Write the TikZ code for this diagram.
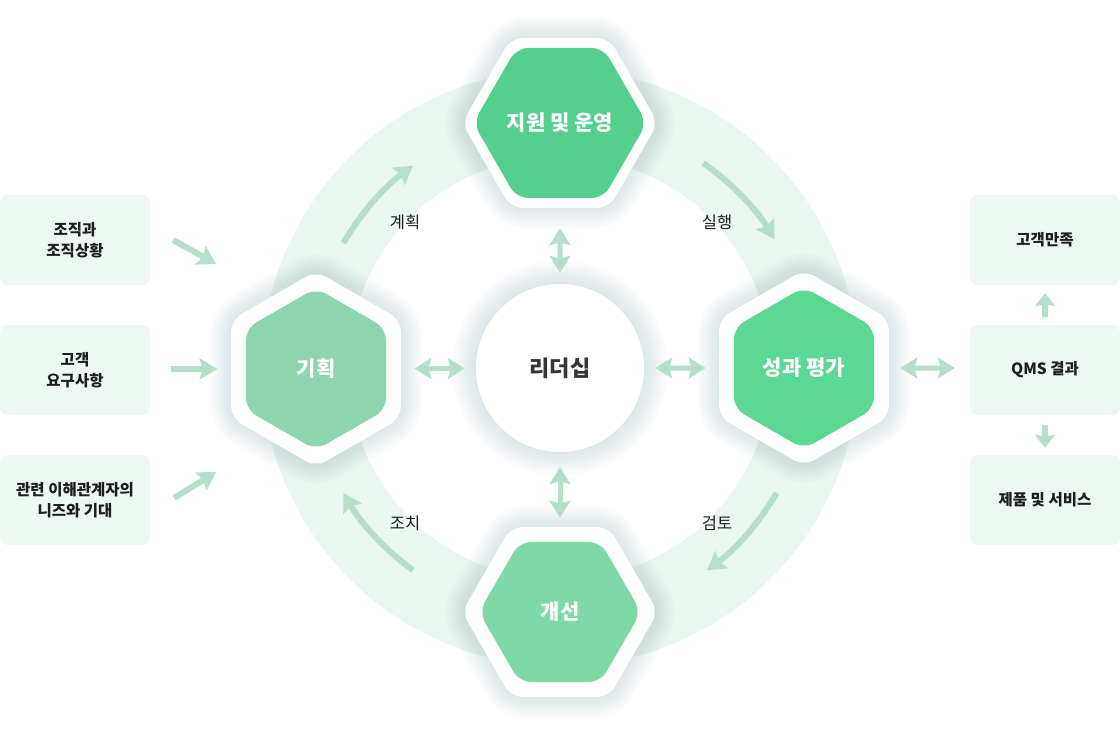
\documentclass[tikz,border=0pt]{standalone}
\usepackage{fontspec}
\setmainfont{Noto Sans CJK KR}
\usetikzlibrary{shapes.geometric,arrows.meta}
\definecolor{ringc}{HTML}{EAF7F0}
\definecolor{arr}{HTML}{B6DFC9}
\definecolor{boxc}{HTML}{ECF8F1}
\definecolor{glowc}{HTML}{A9C2C9}
\definecolor{gTop}{HTML}{55CF8D}
\definecolor{gRight}{HTML}{5BD893}
\definecolor{gLeft}{HTML}{8ED4AE}
\definecolor{gBot}{HTML}{7ED9A7}
\definecolor{ink}{HTML}{1E1E1E}
\tikzset{
  hexbase/.style={regular polygon, regular polygon sides=6, inner sep=0pt, draw=none},
  hexw/.style={hexbase, minimum size=196pt, fill=white, rounded corners=12pt},
  hexg/.style={hexbase, minimum size=162pt, rounded corners=12pt, text=white,
     font=\bfseries\fontsize{21}{25}\selectfont},
  glowlayer/.style={fill=glowc, fill opacity=0.038, draw=none},
  infobox/.style={rectangle, rounded corners=8pt, fill=boxc, minimum width=150pt,
     minimum height=90pt, inner sep=0pt, align=center, text=ink,
     font=\bfseries\fontsize{15.5}{21}\selectfont},
  lbl/.style={text=ink, font=\fontsize{16.5}{20}\selectfont, inner sep=0pt},
  flow/.style={draw=arr, line width=6pt, -{Stealth[length=18pt,width=21pt,inset=3pt]}},
  dbl/.style={draw=arr, line width=5pt,
     {Stealth[length=17pt,width=21pt,inset=3pt]}-{Stealth[length=17pt,width=21pt,inset=3pt]}},
  small/.style={draw=arr, line width=6pt, -{Stealth[length=13pt,width=20pt,inset=2pt]}},
}
\begin{document}
\begin{tikzpicture}[x=1pt,y=-1pt]
\useasboundingbox (0,0) rectangle (1120,739);
\coordinate (C) at (560,368);
% ring
\fill[ringc, even odd rule] (C) circle[radius=298] (C) circle[radius=212];
% glows
\foreach \k in {1,...,12}{
  \node[hexbase, glowlayer, minimum size={196pt+4pt*\k}, rounded corners={12pt+\k pt}] (gt\k) at (560,123) {};
  \node[hexbase, glowlayer, minimum size={196pt+4pt*\k}, rounded corners={12pt+\k pt}] (gb\k) at (560,612) {};
  \node[hexbase, glowlayer, shape border rotate=30, minimum size={196pt+4pt*\k}, rounded corners={12pt+\k pt}] (gl\k) at (316,369) {};
  \node[hexbase, glowlayer, shape border rotate=30, minimum size={196pt+4pt*\k}, rounded corners={12pt+\k pt}] (gr\k) at (804,368) {};
  \node[circle, glowlayer, inner sep=0pt, minimum size={168pt+4pt*\k}] (gc\k) at (C) {};
}
% white frames
\node[hexw] (supp-w) at (560,123) {};
\node[hexw] (impr-w) at (560,612) {};
\node[hexw, shape border rotate=30] (plan-w) at (316,369) {};
\node[hexw, shape border rotate=30] (eval-w) at (804,368) {};
% center
\node[circle, fill=white, minimum size=168pt, inner sep=0pt, text=ink!90!white,
  font=\bfseries\fontsize{22}{26}\selectfont] (lead) at (C) {리더십};
% green hexes
\node[hexg, fill=gTop] (supp) at (560,123) {지원 및 운영};
\node[hexg, fill=gBot] (impr) at (560,612) {개선};
\node[hexg, fill=gLeft, shape border rotate=30] (plan) at (316,369) {기획};
\node[hexg, fill=gRight, shape border rotate=30] (eval) at (804,368) {성과 평가};
% boxes left
\node[infobox] (b1) at (75,240) {조직과\\조직상황};
\node[infobox] (b2) at (75,370) {고객\\요구사항};
\node[infobox] (b3) at (75,500) {관련 이해관계자의\\니즈와 기대};
% boxes right
\node[infobox] (r1) at (1045,240) {고객만족};
\node[infobox] (r2) at (1045,370) {QMS 결과};
\node[infobox] (r3) at (1045,500) {제품 및 서비스};
% left arrows
\draw[flow] ([xshift=23pt]b1.east) -- ++(43,24);
\draw[flow, shorten <=21pt, shorten >=28pt] (b2.east |- plan) -- (plan);
\draw[flow] ([xshift=24pt,yshift=2pt]b3.east) -- ++(42,-26);
% double arrows
\draw[dbl, shorten <=28pt, shorten >=11pt] (plan) -- (lead);
\draw[dbl, shorten <=11pt, shorten >=28pt] (lead) -- (eval);
\draw[dbl, shorten <=30pt, shorten >=11pt] (supp) -- (lead);
\draw[dbl, shorten <=15pt, shorten >=24pt] (lead) -- (impr);
\draw[dbl, shorten <=26pt, shorten >=15pt] (eval) -- (r2.west |- eval);
% right small arrows
\draw[small, shorten <=8pt, shorten >=8pt] (r2) -- (r1);
\draw[small, shorten <=10pt, shorten >=7pt] (r2) -- (r3);
% cycle arrows
\draw[flow] ([shift={(C)}]-150:250) arc[start angle=-150, end angle=-126, radius=250];
\draw[flow] ([shift={(C)}]-55:250) arc[start angle=-55, end angle=-31, radius=250];
\draw[flow] ([shift={(C)}]30:250) arc[start angle=30, end angle=54, radius=250];
\draw[flow] ([shift={(C)}]126:250) arc[start angle=126, end angle=150, radius=250];
% labels
\node[lbl] (l1) at (405,222) {계획};
\node[lbl] (l2) at (717,222) {실행};
\node[lbl] (l3) at (717,523) {검토};
\node[lbl] (l4) at (405,523) {조치};
\end{tikzpicture}
\end{document}
